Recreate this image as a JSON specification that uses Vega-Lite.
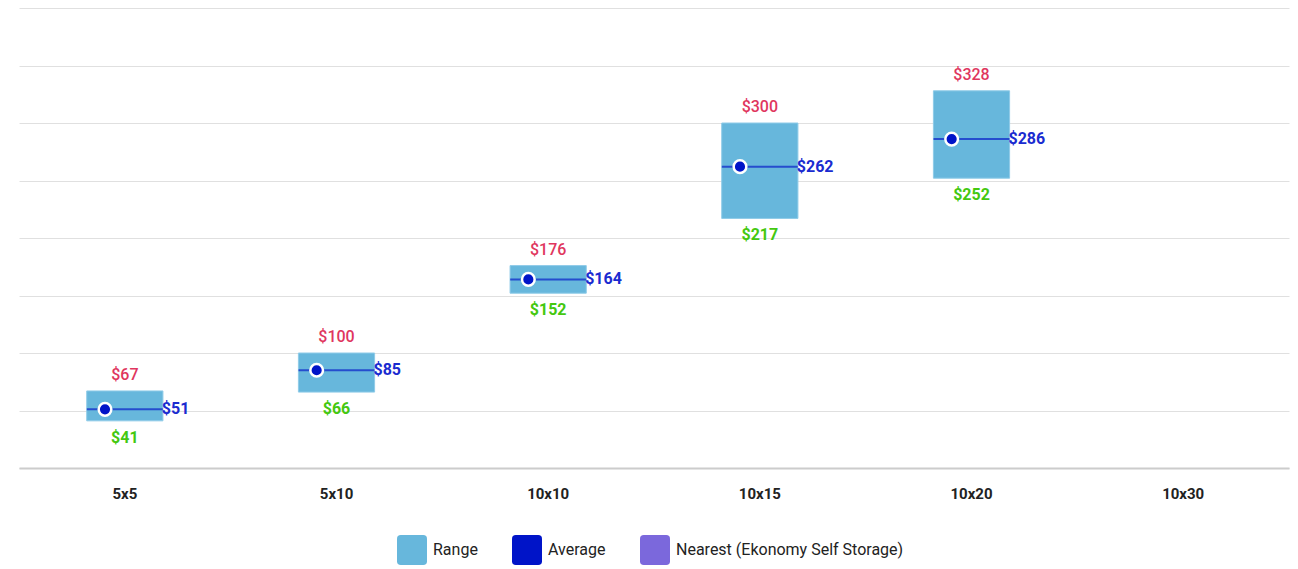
{
  "$schema": "https://vega.github.io/schema/vega-lite/v6.json",
  "width": 1270,
  "height": 460,
  "autosize": {"type": "none"},
  "padding": {"left": 19, "top": 8, "right": 9, "bottom": 101},
  "background": "white",
  "config": {
    "view": {"stroke": null},
    "font": "Roboto"
  },
  "data": {
    "values": [
      {"size": "5x5", "min": 41, "avg": 51, "max": 67, "minLabel": "$41", "avgLabel": "$51", "maxLabel": "$67"},
      {"size": "5x10", "min": 66, "avg": 85, "max": 100, "minLabel": "$66", "avgLabel": "$85", "maxLabel": "$100"},
      {"size": "10x10", "min": 152, "avg": 164, "max": 176, "minLabel": "$152", "avgLabel": "$164", "maxLabel": "$176"},
      {"size": "10x15", "min": 217, "avg": 262, "max": 300, "minLabel": "$217", "avgLabel": "$262", "maxLabel": "$300"},
      {"size": "10x20", "min": 252, "avg": 286, "max": 328, "minLabel": "$252", "avgLabel": "$286", "maxLabel": "$328"}
    ]
  },
  "encoding": {
    "x": {
      "field": "size",
      "type": "nominal",
      "sort": null,
      "scale": {"domain": ["5x5", "5x10", "10x10", "10x15", "10x20", "10x30"], "paddingInner": 0, "paddingOuter": 0},
      "axis": {
        "title": null,
        "labelAngle": 0,
        "labelFont": "Roboto",
        "labelFontSize": 15,
        "labelFontWeight": "bold",
        "labelColor": "#222222",
        "labelPadding": 18,
        "ticks": false,
        "grid": false,
        "domainColor": "#cccccc",
        "domainWidth": 2,
        "zindex": 1
      }
    }
  },
  "layer": [
    {
      "mark": {"type": "bar", "width": {"band": 0.36}, "stroke": "#8fcbe8", "strokeWidth": 1},
      "encoding": {
        "y": {
          "field": "min",
          "type": "quantitative",
          "scale": {"domain": [0, 400], "nice": false},
          "axis": {
            "title": null,
            "labels": false,
            "ticks": false,
            "domain": false,
            "values": [0, 50, 100, 150, 200, 250, 300, 350, 400],
            "gridColor": "#e0e0e0",
            "gridWidth": 1
          }
        },
        "y2": {"field": "max"},
        "color": {
          "datum": "Range",
          "type": "nominal",
          "scale": {
            "domain": ["Range", "Average", "Nearest (Ekonomy Self Storage)"],
            "range": ["#67b7dc", "#0014c8", "#7b68dc"]
          },
          "legend": {
            "title": null,
            "orient": "none",
            "direction": "horizontal",
            "legendX": 378,
            "legendY": 527,
            "symbolType": "M-1,-0.75Q-1,-1,-0.75,-1L0.75,-1Q1,-1,1,-0.75L1,0.75Q1,1,0.75,1L-0.75,1Q-1,1,-1,0.75Z",
            "symbolSize": 900,
            "symbolStrokeWidth": 0,
            "symbolOpacity": 1,
            "labelFont": "Roboto",
            "labelFontSize": 16,
            "labelColor": "#222222",
            "labelOffset": 6,
            "labelLimit": 400,
            "columnPadding": 34
          }
        }
      }
    },
    {
      "mark": {"type": "tick", "size": 76, "thickness": 2, "color": "#0a1fc8"},
      "encoding": {"y": {"field": "avg", "type": "quantitative"}}
    },
    {
      "mark": {"type": "point", "filled": true, "size": 160, "fill": "#0014c8", "stroke": "white", "strokeWidth": 2.5, "opacity": 1, "strokeOpacity": 1},
      "encoding": {
        "y": {"field": "avg", "type": "quantitative"},
        "xOffset": {"value": 86}
      }
    },
    {
      "mark": {"type": "text", "dy": -16, "font": "Roboto", "fontSize": 16, "fontWeight": 500, "color": "#e0365e", "baseline": "middle"},
      "encoding": {
        "y": {"field": "max", "type": "quantitative"},
        "text": {"field": "maxLabel"}
      }
    },
    {
      "mark": {"type": "text", "dy": 17, "font": "Roboto", "fontSize": 16, "fontWeight": "bold", "color": "#44c810", "baseline": "middle"},
      "encoding": {
        "y": {"field": "min", "type": "quantitative"},
        "text": {"field": "minLabel"}
      }
    },
    {
      "mark": {"type": "text", "dx": 37, "font": "Roboto", "fontSize": 16, "fontWeight": "bold", "color": "#1a2bd0", "align": "left", "baseline": "middle"},
      "encoding": {
        "y": {"field": "avg", "type": "quantitative"},
        "text": {"field": "avgLabel"}
      }
    }
  ]
}
